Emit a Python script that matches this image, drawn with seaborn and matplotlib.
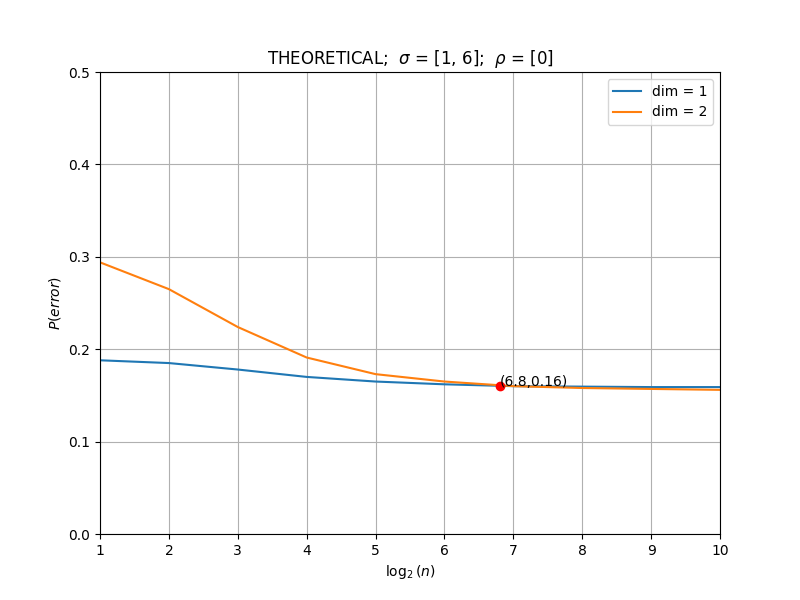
import matplotlib
matplotlib.use("Agg")
import matplotlib.pyplot as plt
import seaborn as sns
import pandas as pd

log2n = [1, 2, 3, 4, 5, 6, 7, 8, 9, 10]
dim1 = [0.188, 0.185, 0.178, 0.170, 0.165, 0.162, 0.160, 0.1595, 0.159, 0.159]
dim2 = [0.294, 0.265, 0.224, 0.191, 0.173, 0.165, 0.160, 0.158, 0.157, 0.156]
point_x = [6.8]
point_y = [0.16]
point_label = "(6.8,0.16)"

df = pd.DataFrame({
    "x": log2n * 2,
    "y": dim1 + dim2,
    "dim": ["dim = 1"] * len(log2n) + ["dim = 2"] * len(log2n),
})

fig, ax = plt.subplots(figsize=(8, 6), dpi=100)
sns.lineplot(data=df, x="x", y="y", hue="dim", palette=["#1f77b4", "#ff7f0e"], ax=ax)
ax.plot(point_x, point_y, "o", color="red")
ax.text(point_x[0], point_y[0], point_label, fontsize=10)
ax.set_xlim(1, 10)
ax.set_ylim(0, 0.5)
ax.grid(True)
ax.set_xlabel(r"$\log_2(n)$")
ax.set_ylabel(r"$P(error)$")
ax.set_title(r"THEORETICAL;  $\sigma$ = [1, 6];  $\rho$ = [0]")
ax.legend(loc="upper right", title=None)
fig.savefig("out.png", dpi=100)
